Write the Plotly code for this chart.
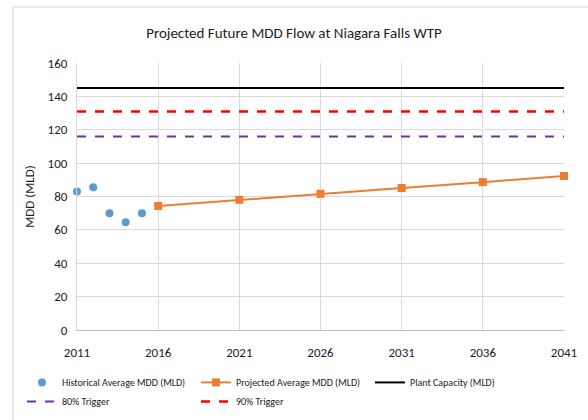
import plotly.graph_objects as go

hist_years = [2011, 2012, 2013, 2014, 2015]
hist_mdd = [83, 85.5, 70, 64.5, 70]
proj_years = [2016, 2021, 2026, 2031, 2036, 2041]
proj_mdd = [74.3, 78, 81.6, 85.1, 88.6, 92.3]
line_years = [2011, 2041]
plant_capacity = [145, 145]
trigger_80 = [116, 116]
trigger_90 = [131, 131]
x_ticks = [2011, 2016, 2021, 2026, 2031, 2036, 2041]

FONT = "Carlito, Lato, sans-serif"

fig = go.Figure()
fig.add_trace(go.Scatter(x=hist_years, y=hist_mdd, mode="markers",
                         name="Historical Average MDD (MLD)",
                         marker=dict(color="#5B9BD5", size=8, symbol="circle"),
                         cliponaxis=False))
fig.add_trace(go.Scatter(x=proj_years, y=proj_mdd, mode="lines+markers",
                         name="Projected Average MDD (MLD)",
                         line=dict(color="#ED7D31", width=2),
                         marker=dict(color="#ED7D31", size=8, symbol="square"),
                         cliponaxis=False))
fig.add_trace(go.Scatter(x=line_years, y=plant_capacity, mode="lines",
                         name="Plant Capacity (MLD)",
                         line=dict(color="black", width=2)))
fig.add_trace(go.Scatter(x=line_years, y=trigger_80, mode="lines",
                         name="80% Trigger",
                         line=dict(color="#7030A0", width=2, dash="dash")))
fig.add_trace(go.Scatter(x=line_years, y=trigger_90, mode="lines",
                         name="90% Trigger",
                         line=dict(color="#FF0000", width=2.5, dash="dash")))

fig.update_layout(
    width=588, height=420,
    margin=dict(l=77, r=24, t=63, b=90, autoexpand=False),
    paper_bgcolor="white", plot_bgcolor="white",
    font=dict(family=FONT, size=12, color="#333333"),
    title=dict(text="Projected Future MDD Flow at Niagara Falls WTP",
               x=0.5, xanchor="center", y=1 - 33 / 420, yanchor="middle",
               font=dict(family=FONT, size=15, color="#222222")),
    xaxis=dict(range=[2011, 2041], tickvals=x_ticks, showgrid=True,
               gridcolor="#D9D9D9", gridwidth=1, zeroline=False,
               showline=True, linecolor="#BFBFBF", linewidth=1,
               ticks="", ticklabelstandoff=10, automargin=False,
               tickfont=dict(size=13, color="#222222")),
    yaxis=dict(range=[0, 160], dtick=20, showgrid=True, gridcolor="#D9D9D9",
               zeroline=False, showline=True, linecolor="#D9D9D9",
               ticks="", ticklabelstandoff=6, automargin=False,
               tickfont=dict(size=13, color="#222222"),
               title=dict(text="MDD (MLD)", standoff=10,
                          font=dict(size=13, color="#222222"))),
    legend=dict(orientation="h", x=-0.113, xanchor="left", y=-0.142,
                yanchor="top", entrywidth=129, entrywidthmode="pixels",
                font=dict(size=10, color="#222222"), tracegroupgap=0,
                itemwidth=30),
    shapes=[dict(type="rect", xref="paper", yref="paper",
                 x0=-0.1314, x1=2, y0=-2, y1=1.2097,
                 line=dict(color="#D9D9D9", width=1), layer="below")],
)

fig.write_html("out.html", config={"displayModeBar": False},
               post_script="document.body.style.margin='0';document.body.style.overflow='hidden';")
